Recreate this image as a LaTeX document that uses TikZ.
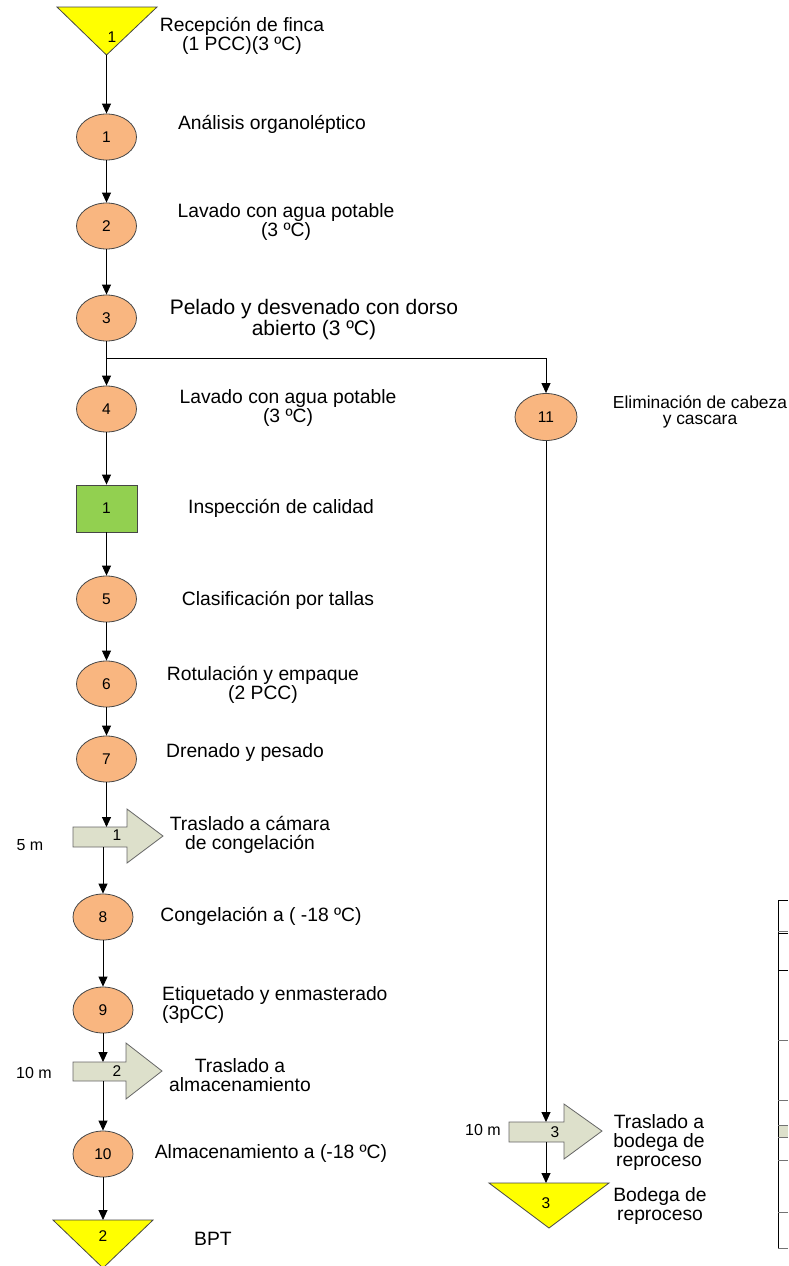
\documentclass[tikz,border=0pt]{standalone}
\usepackage{fontspec}
\setmainfont{Liberation Sans}
\usetikzlibrary{arrows.meta,shapes.geometric}

\definecolor{opfill}{RGB}{249,182,128}
\definecolor{inspfill}{RGB}{146,208,80}
\definecolor{storefill}{RGB}{255,255,0}
\definecolor{movefill}{RGB}{221,224,203}
\definecolor{edgegray}{RGB}{70,70,70}

\newcommand\nodenumfont{\fontsize{15.5}{15.5}\selectfont}
\newcommand\stepfont{\fontsize{19.3}{19}\selectfont}
\newcommand\bigstepfont{\fontsize{21}{21}\selectfont}
\newcommand\sidefont{\fontsize{17.4}{16.5}\selectfont}
\newcommand\distfont{\fontsize{16}{16}\selectfont}

\begin{document}
\begin{tikzpicture}[x=1pt,y=-1pt,
  conn/.style={draw=black, line width=0.9pt, -{Triangle[width=9pt,length=10pt]}},
  opnode/.style={ellipse, draw=edgegray, line width=0.8pt, fill=opfill,
    minimum width=60pt, minimum height=46pt, inner sep=0pt, font=\nodenumfont},
  inspnode/.style={rectangle, draw=edgegray, line width=0.8pt, fill=inspfill,
    minimum width=61pt, minimum height=47pt, inner sep=0pt, font=\nodenumfont},
  storeshape/.style={draw=edgegray, line width=0.8pt, fill=storefill},
  moveshape/.style={draw=black!60, line width=0.8pt, fill=movefill},
  numlbl/.style={inner sep=0pt, font=\nodenumfont},
  steplbl/.style={inner sep=0pt, align=center, font=\stepfont},
  distlbl/.style={inner sep=0pt, font=\distfont},
  tblline/.style={line width=0.8pt}
]
\useasboundingbox (0,0) rectangle (788,1266);

% ---- storage triangles ----
\filldraw[storeshape] (57,7) -- (157,7) -- (106.5,55) -- cycle;
\coordinate (t1apex) at (106.5,55);
\node[numlbl] (s1) at (112,37) {1};

\filldraw[storeshape] (53,1220) -- (153,1220) -- (103,1268) -- cycle;
\coordinate (t2top) at (103,1220);
\node[numlbl] (s2) at (103,1236) {2};

\filldraw[storeshape] (489,1183) -- (609,1183) -- (549,1228) -- cycle;
\coordinate (t3top) at (546,1183);
\node[numlbl] (s3) at (546,1203) {3};

% ---- operations ----
\node[opnode] (e1) at (106.5,137) {1};
\node[opnode] (e2) at (106.5,226) {2};
\node[opnode] (e3) at (106.5,318) {3};
\node[opnode] (e4) at (106.5,409) {4};
\node[inspnode] (q1) at (106.5,508.5) {1};
\node[opnode] (e5) at (106.5,599) {5};
\node[opnode] (e6) at (106.5,684) {6};
\node[opnode] (e7) at (106.5,759) {7};
\node[opnode] (e8) at (103,917) {8};
\node[opnode] (e9) at (103,1010) {9};
\node[opnode] (e10) at (103,1154) {10};
\node[opnode, minimum width=62pt, minimum height=47pt] (e11) at (546,417) {11};

% ---- transport block arrows ----
\filldraw[moveshape] (73,827) -- (127,827) -- (127,809) -- (163,836) -- (127,863)
  -- (127,847) -- (73,847) -- cycle;
\node[numlbl] (m1) at (117,835) {1};
\coordinate (a1in) at (106.5,827);
\coordinate (a1out) at (103,847);

\filldraw[moveshape] (73,1062) -- (126,1062) -- (126,1043) -- (162,1071) -- (126,1099)
  -- (126,1081) -- (73,1081) -- cycle;
\node[numlbl] (m2) at (117,1071) {2};
\coordinate (a2in) at (103,1062);
\coordinate (a2out) at (103,1081);

\filldraw[moveshape] (509,1122) -- (564,1122) -- (564,1104) -- (602,1131) -- (564,1159)
  -- (564,1142) -- (509,1142) -- cycle;
\node[numlbl] (m3) at (555,1132) {3};
\coordinate (a3in) at (546,1122);
\coordinate (a3out) at (546,1142);

% ---- connectors ----
\coordinate (br) at (106.5,358);
\draw[conn] (t1apex) -- (e1);
\draw[conn] (e1) -- (e2);
\draw[conn] (e2) -- (e3);
\draw[conn] (e3) -- (e4);
\draw[conn] (br) -| (e11.north);
\draw[conn] (e4) -- (q1);
\draw[conn] (q1) -- (e5);
\draw[conn] (e5) -- (e6);
\draw[conn] (e6) -- (e7);
\draw[conn] (e7) -- (a1in);
\draw[conn] (a1out) -- (e8);
\draw[conn] (e8) -- (e9);
\draw[conn] (e9) -- (a2in);
\draw[conn] (a2out) -- (e10);
\draw[conn] (e10) -- (t2top);
\draw[conn] (e11) -- (a3in);
\draw[conn] (a3out) -- (t3top);

% ---- step descriptions ----
\node[steplbl] (l0) at (242,36) {Recepción de finca\\(1 PCC)(3 ºC)};
\node[steplbl] (l1) at (272,124) {Análisis organoléptico};
\node[steplbl] (l2) at (286,222) {Lavado con agua potable\\(3 ºC)};
\node[steplbl, font=\bigstepfont] (l3) at (314,320) {Pelado y desvenado con dorso\\abierto (3 ºC)};
\node[steplbl] (l4) at (288,408) {Lavado con agua potable\\(3 ºC)};
\node[steplbl] (lq) at (281,508) {Inspección de calidad};
\node[steplbl] (l5) at (278,600) {Clasificación por tallas};
\node[steplbl] (l6) at (263,685) {Rotulación y empaque\\(2 PCC)};
\node[steplbl] (l7) at (245,752) {Drenado y pesado};
\node[steplbl] (lm1) at (250,835) {Traslado a cámara\\de congelación};
\node[steplbl] (l8) at (261,916) {Congelación a ( -18 ºC)};
\node[steplbl, align=left, anchor=west] (l9) at (162,1005) {Etiquetado y enmasterado\\(3pCC)};
\node[steplbl] (lm2) at (240,1075) {Traslado a\\almacenamiento};
\node[steplbl] (l10) at (271,1153) {Almacenamiento a (-18 ºC)};
\node[steplbl] (ls2) at (213,1239) {BPT};
\node[steplbl, font=\sidefont] (l11) at (700,412) {Eliminación de cabeza\\y cascara};
\node[steplbl] (lm3) at (659,1142) {Traslado a\\bodega de\\reproceso};
\node[steplbl] (ls3) at (660,1206) {Bodega de\\reproceso};

% ---- distances ----
\node[distlbl] (d1) at (30,845) {5 m};
\node[distlbl] (d2) at (34,1073) {10 m};
\node[distlbl] (d3) at (483,1130) {10 m};

% ---- table edge on the right ----
\fill[movefill] (778,1125) rectangle (788,1137);
\draw[tblline] (778,900) -- (778,1248);
\foreach \yy in {900,933,970}
  \draw[tblline] (778,\yy) -- (788,\yy);
\foreach \yy in {931,1040,1100,1125,1137,1160,1212,1248}
  \draw[tblline, black!55] (778,\yy) -- (788,\yy);
\end{tikzpicture}
\end{document}
